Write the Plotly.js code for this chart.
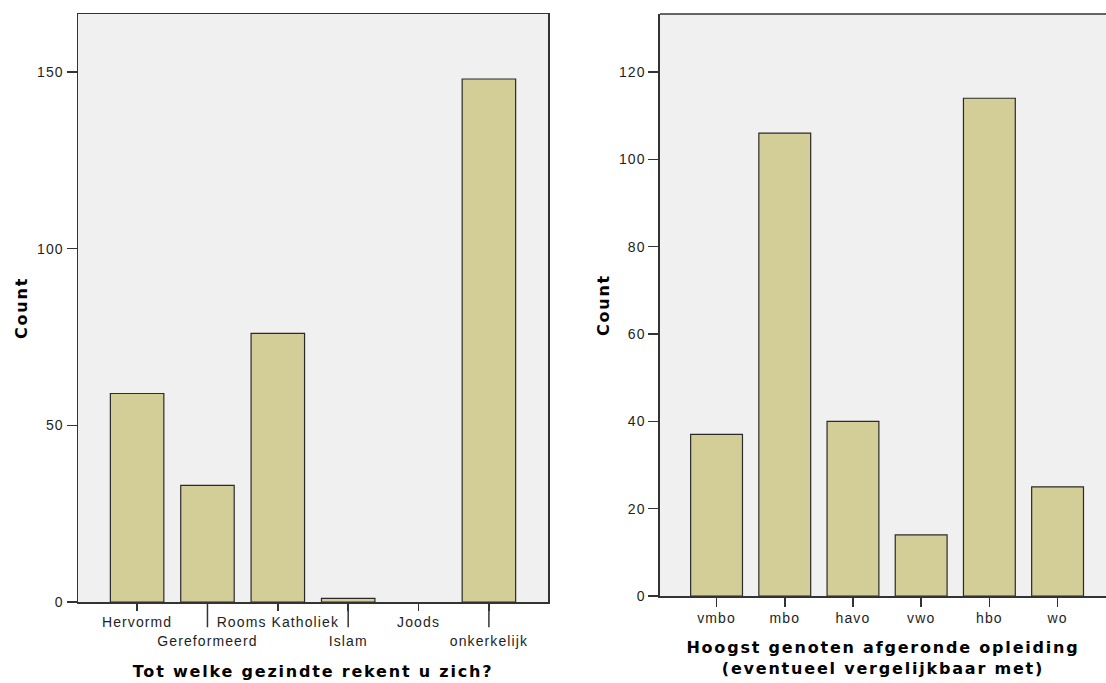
<!DOCTYPE html>
<html><head><meta charset="utf-8">
<script src="https://cdn.plot.ly/plotly-3.0.1.min.js"></script>
<style>
body{margin:0;background:#fff}#c{width:1106px;height:683px}
g.xtick text, g.x2tick text, g.ytick text, g.y2tick text{letter-spacing:1.1px}
text.xtitle, text.x2title, text.ytitle, text.y2title{letter-spacing:1.8px}
</style>
</head><body><div id="c"></div>
<script>
const relCats = ['Hervormd','Gereformeerd','Rooms Katholiek','Islam','Joods','onkerkelijk'];
const relCounts = [59,33,76,1,0,148];
const eduCats = ['vmbo','mbo','havo','vwo','hbo','wo'];
const eduCounts = [37,106,40,14,114,25];
const relTicks = [0,50,100,150];
const eduTicks = [0,20,40,60,80,100,120];

const barColor = '#d3ce97';
const edge = '#2a2a2a';
const tickFont = {family:'Liberation Sans, Arial, sans-serif', size:14, color:'#1e1e1e'};
const titleFont = {family:'DejaVu Sans, Verdana, sans-serif', size:16, color:'#000', weight:'bold'};

const data = [
  {type:'bar', x:relCats, y:relCounts, xaxis:'x', yaxis:'y', width:0.76,
   marker:{color:barColor, line:{color:edge, width:relCounts.map(v=> v>0 ? 1.2 : 0)}}, hoverinfo:'x+y'},
  {type:'bar', x:eduCats, y:eduCounts, xaxis:'x2', yaxis:'y2', width:0.76,
   marker:{color:barColor, line:{color:edge, width:1.2}}, hoverinfo:'x+y'}
];

const relTickText = relCats.map((c,i)=> i%2 ? '<br>'+c : c);

const shapes = [];
relCats.forEach((c,i)=>{
  if(i%2){
    shapes.push({type:'line', xref:'x', yref:'paper', x0:c, x1:c, y0:0, y1:-0.043,
      line:{color:'#333', width:1.5}, layer:'above'});
  }
});
shapes.push({type:'line', xref:'x2 domain', yref:'paper', x0:0, x1:1, y0:1, y1:1, line:{color:'#333', width:1.5}});

const layout = {
  width:1106, height:683,
  margin:{l:78, r:0, t:14, b:81},
  paper_bgcolor:'#fff',
  showlegend:false,
  xaxis:{domain:[0,0.4572], type:'category', range:[-0.84,5.84],
    tickvals:relCats, ticktext:relTickText, tickangle:0, ticks:'outside', ticklen:7, tickwidth:1.5, tickcolor:'#333',
    showline:true, linecolor:'#333', linewidth:1.5, mirror:true, tickfont:tickFont,
    showgrid:false, zeroline:false, fixedrange:true, automargin:false,
    title:{text:'Tot welke gezindte rekent u zich?', font:titleFont, standoff:18}},
  yaxis:{domain:[0,1], range:[0,166.4], tickvals:relTicks, ticks:'outside', ticklen:10, tickwidth:1.5, tickcolor:'#333',
    showline:true, linecolor:'#333', linewidth:1.5, mirror:true, tickfont:tickFont,
    showgrid:false, zeroline:false, fixedrange:true, automargin:false,
    title:{text:'Count', font:titleFont, standoff:5}},
  xaxis2:{domain:[0.5661,1], anchor:'y2', type:'category', range:[-0.83,5.71], tickangle:0,
    ticks:'outside', ticklen:9, tickwidth:1.5, tickcolor:'#333',
    showline:true, linecolor:'#333', linewidth:1.5, tickfont:tickFont,
    showgrid:false, zeroline:false, fixedrange:true, automargin:false,
    title:{text:'Hoogst genoten afgeronde opleiding<br>(eventueel vergelijkbaar met)', font:titleFont, standoff:16}},
  yaxis2:{domain:[0.0102,1], anchor:'x2', range:[0,133.3], tickvals:eduTicks, ticks:'outside', ticklen:10, tickwidth:1.5, tickcolor:'#333',
    showline:true, linecolor:'#333', linewidth:1.5, tickfont:tickFont,
    showgrid:false, zeroline:false, fixedrange:true, automargin:false,
    title:{text:'Count', font:titleFont, standoff:5}},
  plot_bgcolor:'#f0f0f0',
  shapes:shapes
};
Plotly.newPlot('c', data, layout, {displayModeBar:false, staticPlot:true});
</script></body></html>
